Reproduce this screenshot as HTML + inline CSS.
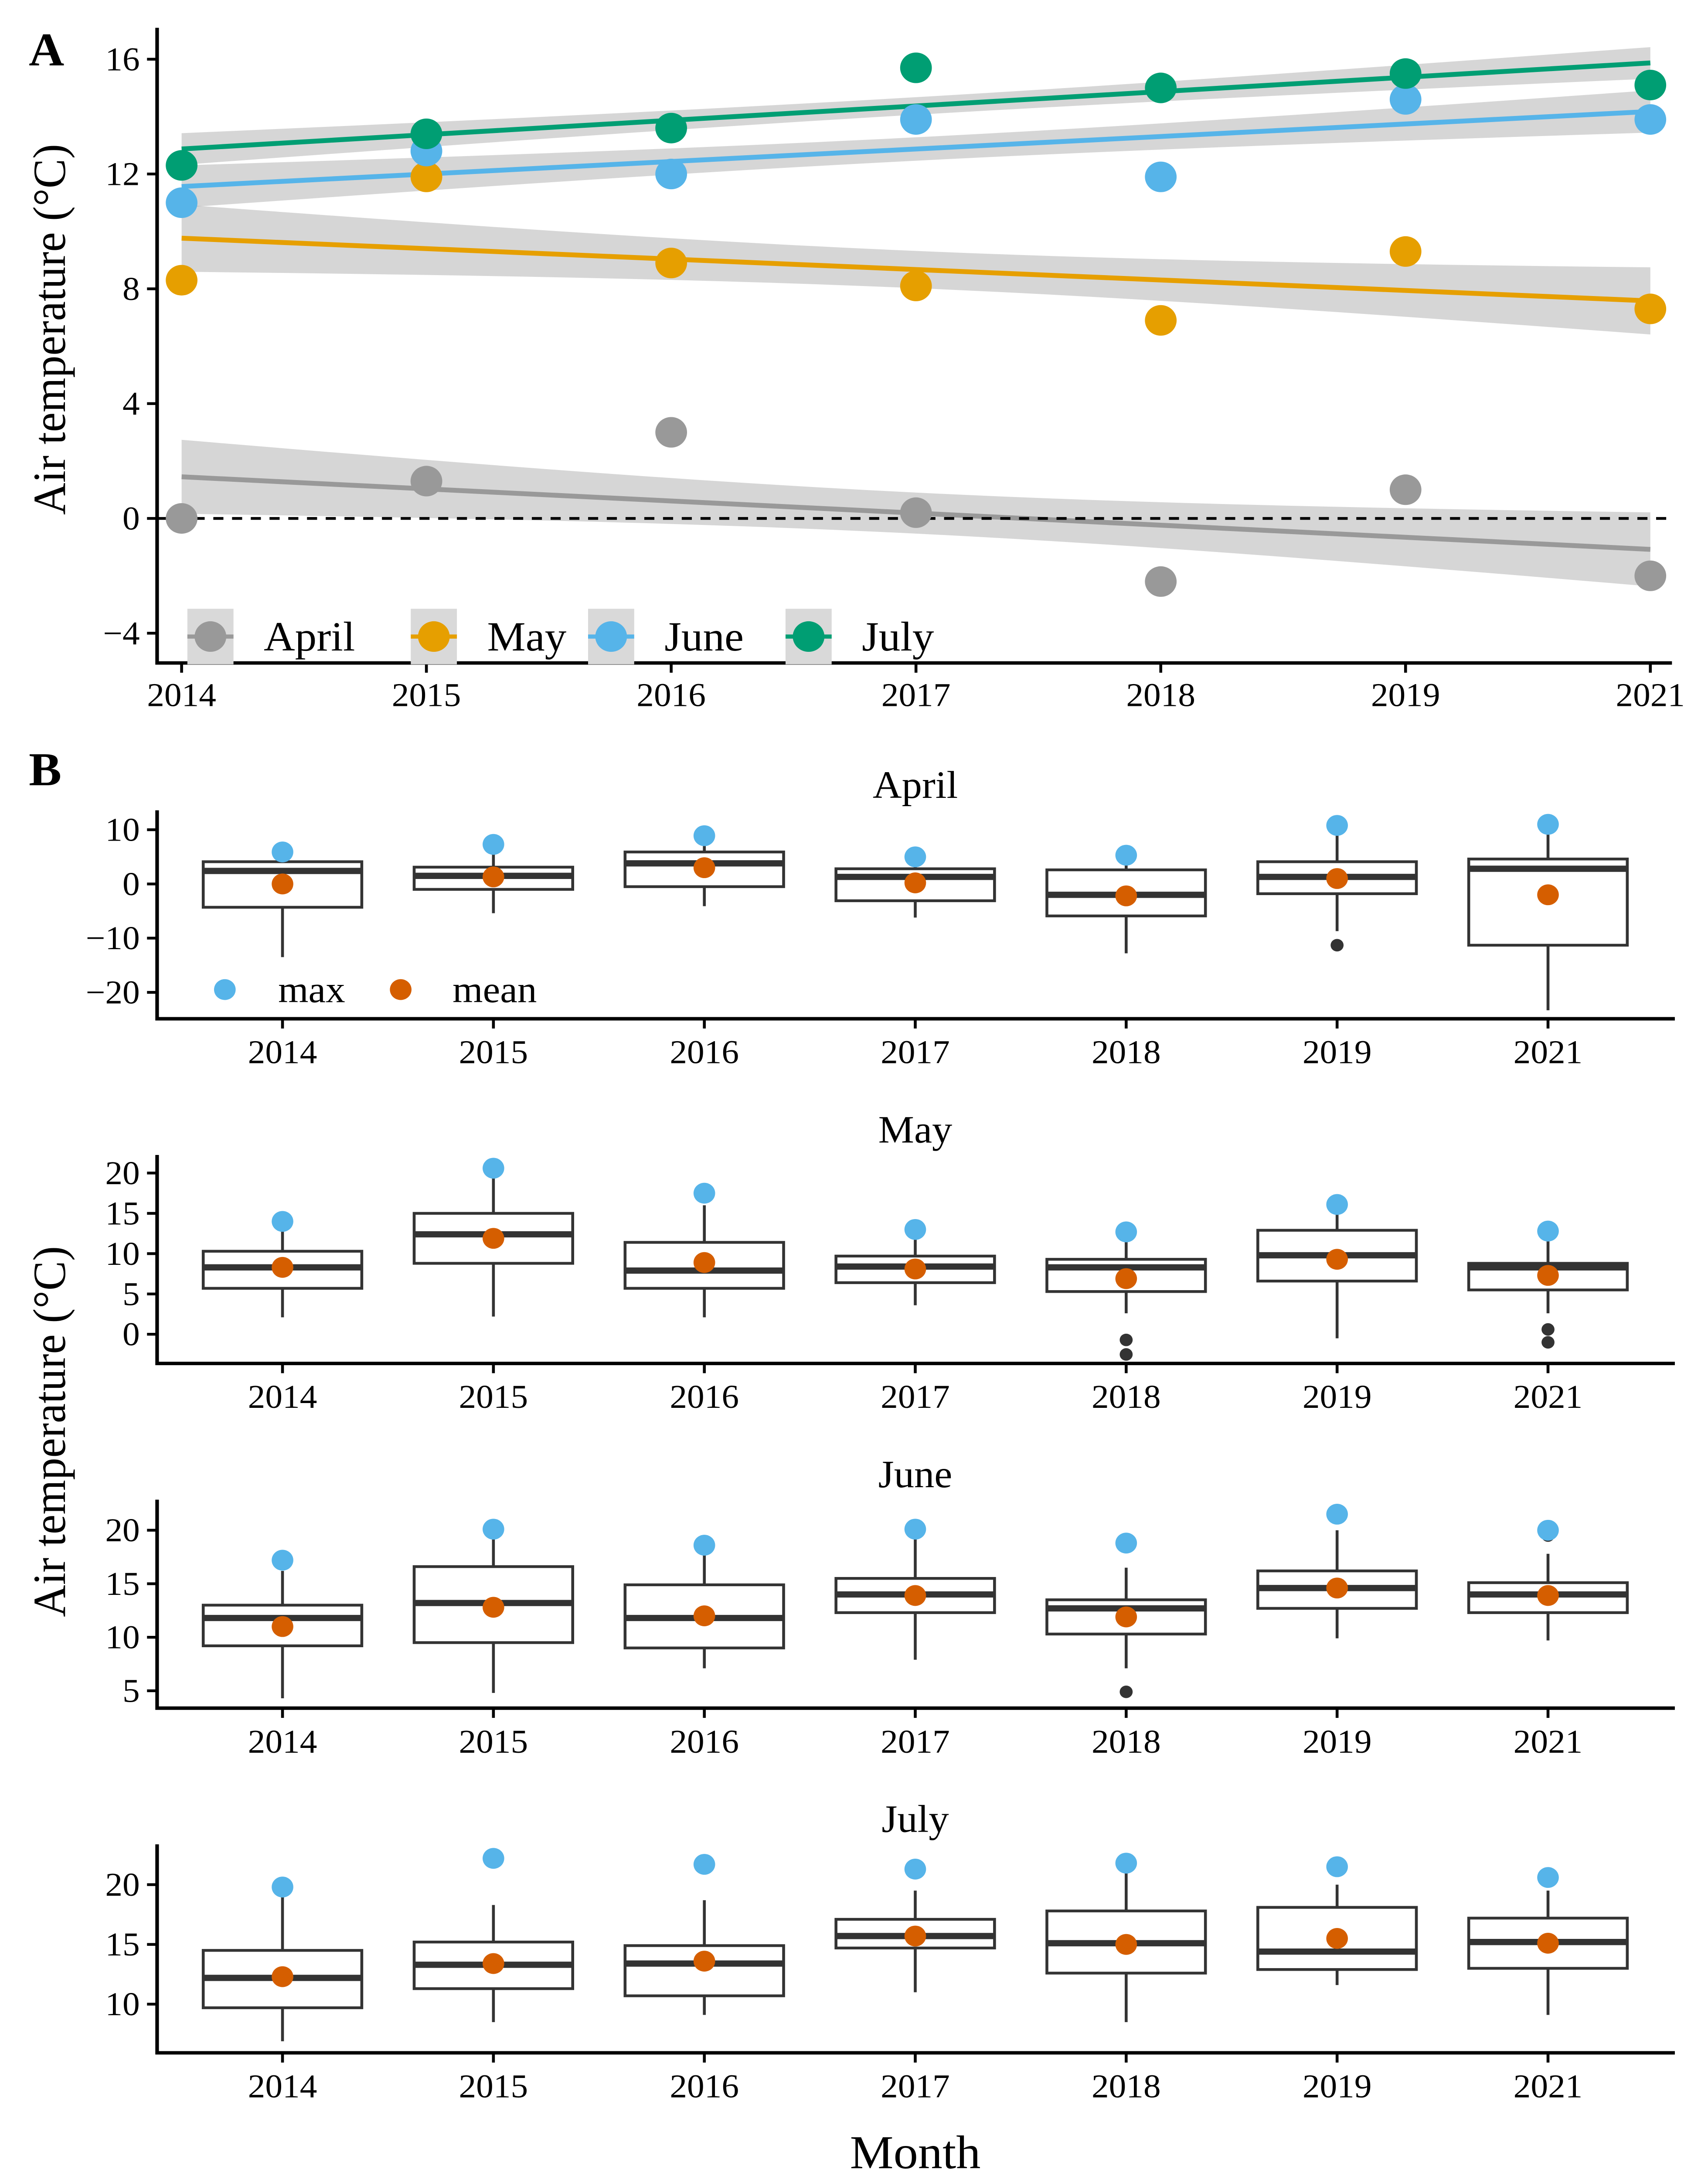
<!DOCTYPE html>
<html><head><meta charset="utf-8">
<style>
html,body{margin:0;padding:0;background:#fff;overflow:hidden;}
svg{display:block;position:absolute;left:0;top:0;width:100vw;height:100vh;font-family:"Liberation Serif",serif;}
</style></head>
<body>
<svg id="chart" viewBox="0 0 1185 1568.5" preserveAspectRatio="none" xmlns="http://www.w3.org/2000/svg"></svg>
<script>
// ---------- Panel A data ----------
const years = ["2014","2015","2016","2017","2018","2019","2021"];
const months = ["April","May","June","July"];
const monthColors = ["#999999","#E69F00","#56B4E9","#009E73"];
const aprilMean = [0.0, 1.3, 3.0, 0.2, -2.2, 1.0, -2.0];
const mayMean   = [8.3, 11.9, 8.9, 8.1, 6.9, 9.3, 7.3];
const juneMean  = [11.0, 12.8, 12.0, 13.9, 11.9, 14.6, 13.9];
const julyMean  = [12.3, 13.4, 13.6, 15.7, 15.0, 15.5, 15.1];
const aTicks = [-4, 0, 4, 8, 12, 16];

// ---------- Panel B data (per month, per year) ----------
const aprQ1  = [-4.3,-1.0,-0.5,-3.1,-5.9,-1.8,-11.3];
const aprMed = [2.4,1.5,3.8,1.3,-2.0,1.3,2.8];
const aprQ3  = [4.1,3.1,5.9,2.8,2.6,4.1,4.6];
const aprLo  = [-13.5,-5.4,-4.1,-6.2,-12.8,-8.7,-23.3];
const aprHi  = [5.5,6.8,8.5,4.8,5.0,9.5,10.5];
const aprOut = [[],[],[],[],[],[-11.3],[]];
const aprMax = [5.9,7.3,8.9,5.0,5.3,10.8,11.0];

const mayQ1  = [5.7,8.8,5.7,6.4,5.3,6.6,5.5];
const mayMed = [8.3,12.4,7.9,8.4,8.3,9.8,8.3];
const mayQ3  = [10.3,15.0,11.4,9.7,9.3,12.9,8.8];
const mayLo  = [2.1,2.2,2.1,3.6,2.6,-0.5,2.6];
const mayHi  = [13.0,20.0,16.0,12.0,11.5,15.0,11.8];
const mayOut = [[],[],[],[],[-0.7,-2.5],[],[0.6,-1.0]];
const mayMax = [14.0,20.6,17.5,13.0,12.7,16.1,12.8];

const junQ1  = [9.2,9.5,9.0,12.3,10.3,12.7,12.3];
const junMed = [11.8,13.2,11.8,14.0,12.7,14.6,14.0];
const junQ3  = [13.0,16.6,14.9,15.5,13.5,16.2,15.1];
const junLo  = [4.3,4.8,7.1,7.9,7.1,9.9,9.7];
const junHi  = [16.2,19.5,17.8,19.3,16.5,20.0,17.8];
const junOut = [[],[],[],[],[4.9],[],[19.5]];
const junMax = [17.2,20.1,18.6,20.1,18.8,21.5,20.0];

const julQ1  = [9.7,11.3,10.7,14.7,12.6,12.9,13.0];
const julMed = [12.2,13.3,13.4,15.7,15.1,14.4,15.2];
const julQ3  = [14.5,15.2,14.9,17.1,17.8,18.1,17.2];
const julLo  = [6.9,8.5,9.1,11.0,8.5,11.6,9.1];
const julHi  = [19.0,18.3,18.7,19.5,21.0,20.0,19.5];
const julOut = [[],[],[],[],[],[],[]];
const julMax = [19.8,22.2,21.7,21.3,21.8,21.5,20.6];

const aprTicks = [-20,-10,0,10];
const mayTicks = [0,5,10,15,20];
const junTicks = [5,10,15,20];
const julTicks = [10,15,20];

const NS = "http://www.w3.org/2000/svg";
const svg = document.getElementById("chart");
function el(tag, attrs, parent, text){
  const e = document.createElementNS(NS, tag);
  for (const k in attrs) e.setAttribute(k, attrs[k]);
  if (text !== undefined) e.textContent = text;
  (parent || svg).appendChild(e);
  return e;
}

// ---------- Panel A ----------
const gA = el("g", {});


const ax0 = 126, axStep = (1145-126)/6;
const xA = i => ax0 + i*axStep;
const yA = v => 373 - v*20.65;
const lbA = el("text", {x:20, y:47, "font-size":34, "font-weight":"bold"}, gA, "A");



const allSeries = [aprilMean, mayMean, juneMean, julyMean];
allSeries.forEach((ys, s) => {
  const n = ys.length;
  const xs = ys.map((_, i) => i);
  const xm = xs.reduce((a,b)=>a+b)/n, ym = ys.reduce((a,b)=>a+b)/n;
  let sxx=0, sxy=0;
  xs.forEach((x,i)=>{ sxx += (x-xm)**2; sxy += (x-xm)*(ys[i]-ym); });
  const b = sxy/sxx, a = ym - b*xm;
  let sse = 0; xs.forEach((x,i)=>{ sse += (ys[i]-(a+b*x))**2; });
  const se = Math.sqrt(sse/(n-2)), t = 2.571*0.42;
  const up = [], dn = [];
  for (let k=0; k<=60; k++){
    const x = k*(n-1)/60;
    const h = t*se*Math.sqrt(1/n + (x-xm)**2/sxx);
    up.push(xA(x).toFixed(2)+","+yA(a+b*x+h).toFixed(2));
    dn.unshift(xA(x).toFixed(2)+","+yA(a+b*x-h).toFixed(2));
  }
  const rib = el("polygon", {points: up.concat(dn).join(" "), fill:"#999999", "fill-opacity":0.4}, gA);
  
  
  const ln = el("line", {x1:xA(0), y1:yA(a), x2:xA(n-1), y2:yA(a+b*(n-1)), stroke:monthColors[s], "stroke-width":3.5}, gA);
  
  
});
const zl = el("line", {x1:109, x2:1160, y1:yA(0), y2:yA(0), stroke:"#000", "stroke-width":2, "stroke-dasharray":"7,6"}, gA);


allSeries.forEach((ys, s) => {
  ys.forEach((v, i) => {
    const c = el("circle", {cx:xA(i), cy:yA(v), r:11, fill:monthColors[s]}, gA);
    
    
  });
});
const axA = el("path", {d:"M109,20 V477 H1160", fill:"none", stroke:"#000", "stroke-width":2.5}, gA);


aTicks.forEach(v => {
  el("line", {x1:102, x2:109, y1:yA(v), y2:yA(v), stroke:"#000", "stroke-width":2}, gA);
  const t = el("text", {x:97, y:yA(v)+8, "font-size":24, "text-anchor":"end"}, gA, v<0 ? "\u2212"+(-v) : String(v));
  
  
});
years.forEach((y, i) => {
  el("line", {x1:xA(i), x2:xA(i), y1:477, y2:484, stroke:"#000", "stroke-width":2}, gA);
  const t = el("text", {x:xA(i), y:508, "font-size":24, "text-anchor":"middle"}, gA, y);
  
  
});
const ytA = el("text", {x:0, y:0, "font-size":32, "text-anchor":"middle", transform:"translate(45,237) rotate(-90)"}, gA, "Air temperature (\u00B0C)");


const legX = [130, 285, 408, 545];
months.forEach((m, s) => {
  const g = el("g", {}, gA);
  
  
  el("rect", {x:legX[s], y:438, width:32, height:40, fill:"#d9d9d9"}, g);
  el("line", {x1:legX[s], x2:legX[s]+32, y1:458, y2:458, stroke:monthColors[s], "stroke-width":3}, g);
  el("circle", {cx:legX[s]+16, cy:458, r:11, fill:monthColors[s]}, g);
  el("text", {x:legX[s]+53, y:468, "font-size":30}, g, m);
});

// ---------- Panel B ----------
const lbB = el("text", {x:20, y:565, "font-size":34, "font-weight":"bold"}, svg, "B");


const bx0 = 196, bxStep = (1074-196)/6;
const xB = i => bx0 + i*bxStep;
const facets = [
  {name:"April", top:583, base:733, y0:636, v0:0, ppu:3.9, ticks:aprTicks, q1:aprQ1, med:aprMed, q3:aprQ3, lo:aprLo, hi:aprHi, out:aprOut, mx:aprMax, mean:aprilMean},
  {name:"May", top:831, base:981, y0:960, v0:0, ppu:5.8, ticks:mayTicks, q1:mayQ1, med:mayMed, q3:mayQ3, lo:mayLo, hi:mayHi, out:mayOut, mx:mayMax, mean:mayMean},
  {name:"June", top:1079, base:1229, y0:1178, v0:10, ppu:7.7, ticks:junTicks, q1:junQ1, med:junMed, q3:junQ3, lo:junLo, hi:junHi, out:junOut, mx:junMax, mean:juneMean},
  {name:"July", top:1327, base:1477, y0:1442, v0:10, ppu:8.6, ticks:julTicks, q1:julQ1, med:julMed, q3:julQ3, lo:julLo, hi:julHi, out:julOut, mx:julMax, mean:julyMean}
];
facets.forEach(f => {
  const g = el("g", {});
  
  
  const sy = v => f.y0 - (v - f.v0)*f.ppu;
  const tt = el("text", {x:635, y:f.top-9, "font-size":28, "text-anchor":"middle"}, g, f.name);
  
  
  years.forEach((yr, i) => {
    const cx = xB(i), hw = 55;
    const bg = el("g", {}, g);
    
    
    el("line", {x1:cx, x2:cx, y1:sy(f.q3[i]), y2:sy(f.hi[i]), stroke:"#333", "stroke-width":2}, bg);
    el("line", {x1:cx, x2:cx, y1:sy(f.q1[i]), y2:sy(f.lo[i]), stroke:"#333", "stroke-width":2}, bg);
    el("rect", {x:cx-hw, y:sy(f.q3[i]), width:2*hw, height:sy(f.q1[i])-sy(f.q3[i]), fill:"#fff", stroke:"#333", "stroke-width":2}, bg);
    el("line", {x1:cx-hw, x2:cx+hw, y1:sy(f.med[i]), y2:sy(f.med[i]), stroke:"#333", "stroke-width":4.5}, bg);
    f.out[i].forEach(o => el("circle", {cx:cx, cy:sy(o), r:4.5, fill:"#333"}, bg));
    const mxp = el("circle", {cx:cx, cy:sy(f.mx[i]), r:7.5, fill:"#56B4E9"}, g);
    
    
    const mnp = el("circle", {cx:cx, cy:sy(f.mean[i]), r:7.5, fill:"#D55E00"}, g);
    
    
    el("line", {x1:cx, x2:cx, y1:f.base, y2:f.base+7, stroke:"#000", "stroke-width":2}, g);
    const xl = el("text", {x:cx, y:f.base+32, "font-size":24, "text-anchor":"middle"}, g, yr);
    
    
  });
  const ax = el("path", {d:`M109,${f.top} V${f.base} H1162`, fill:"none", stroke:"#000", "stroke-width":2.5}, g);
  
  
  f.ticks.forEach(v => {
    el("line", {x1:102, x2:109, y1:sy(v), y2:sy(v), stroke:"#000", "stroke-width":2}, g);
    const t = el("text", {x:97, y:sy(v)+8, "font-size":24, "text-anchor":"end"}, g, v<0 ? "\u2212"+(-v) : String(v));
    
    
  });
});
const lgB = el("g", {});


el("circle", {cx:156, cy:712, r:7.5, fill:"#56B4E9"}, lgB);
el("text", {x:193, y:721, "font-size":27}, lgB, "max");
el("circle", {cx:278, cy:712, r:7.5, fill:"#D55E00"}, lgB);
el("text", {x:314, y:721, "font-size":27}, lgB, "mean");

const ytB = el("text", {x:0, y:0, "font-size":32, "text-anchor":"middle", transform:"translate(45,1030) rotate(-90)"}, svg, "Air temperature (\u00B0C)");


const xtB = el("text", {x:635, y:1560, "font-size":34, "text-anchor":"middle"}, svg, "Month");


</script>
</body></html>
